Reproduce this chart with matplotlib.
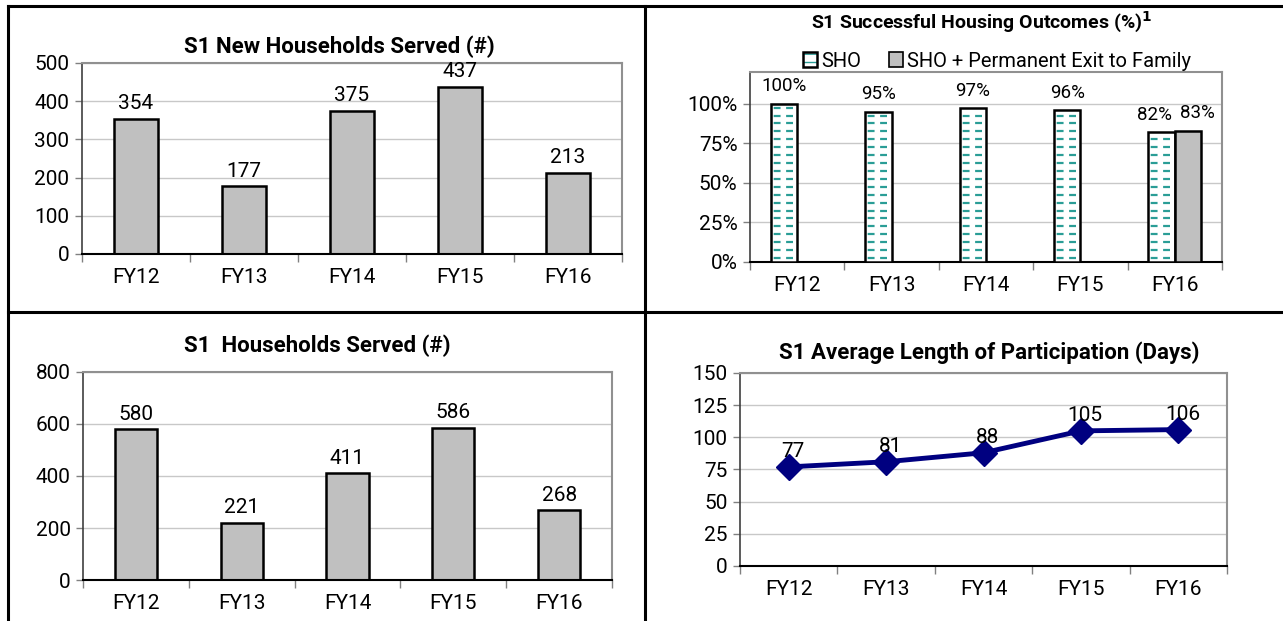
import numpy as np
import matplotlib
matplotlib.use("Agg")
import matplotlib.pyplot as plt
from matplotlib.patches import Patch
from matplotlib.lines import Line2D
from matplotlib.ticker import PercentFormatter, FixedLocator

plt.rcParams['font.family'] = ['Roboto', 'DejaVu Sans']

# ---- data ----
years = ['FY12', 'FY13', 'FY14', 'FY15', 'FY16']
new_households = [354, 177, 375, 437, 213]
households_served = [580, 221, 411, 586, 268]
sho_pct = [100, 95, 97, 96, 82]
sho_family_pct = [np.nan, np.nan, np.nan, np.nan, 83]
avg_days = [77, 81, 88, 105, 106]

GREY_BAR = '#c0c0c0'
TEAL = '#2a9d96'
NAVY = '#000080'
TICK_FS = 15
TITLE_FS = 16


def style_axes(ax, ymax, ystep):
    n = len(years)
    x = np.arange(n)
    ax.set_xlim(-0.5, n - 0.5)
    ax.set_ylim(0, ymax)
    ax.set_yticks(np.arange(0, ymax + 0.1, ystep))
    ax.set_xticks(x)
    ax.set_xticklabels(years)
    ax.xaxis.set_minor_locator(FixedLocator(np.arange(-0.5, n, 1.0)))
    ax.tick_params(axis='x', which='major', length=0, pad=10, labelsize=TICK_FS)
    ax.tick_params(axis='x', which='minor', length=6, width=1, color='#808080')
    ax.tick_params(axis='y', length=5, width=1, color='#808080', labelsize=TICK_FS, pad=4)
    ax.grid(axis='y', color='#c8c8c8', linewidth=1)
    ax.set_axisbelow(True)
    for side in ['top', 'right']:
        ax.spines[side].set_color('#909090')
        ax.spines[side].set_linewidth(1.5)
    ax.spines['left'].set_color('#404040')
    ax.spines['left'].set_linewidth(1.2)
    ax.spines['bottom'].set_color('#000000')
    ax.spines['bottom'].set_linewidth(1.5)
    return x


fig = plt.figure(figsize=(12.83, 6.21), dpi=100)

# ===== S1 New Households Served =====
ax1 = fig.add_axes([0.0639, 0.591, 0.4209, 0.3076])
x = style_axes(ax1, 500, 100)
b = ax1.bar(x, new_households, width=0.4, color=GREY_BAR, edgecolor='black', linewidth=1.8)
ax1.bar_label(b, padding=4, fontsize=TICK_FS)
ax1.set_title('S1 New Households Served (#)', fontsize=TITLE_FS, fontweight='bold',
              x=0.476, y=1.0, pad=7)

# ===== S1 Households Served =====
ax3 = fig.add_axes([0.0647, 0.066, 0.4123, 0.335])
x = style_axes(ax3, 800, 200)
b = ax3.bar(x, households_served, width=0.4, color=GREY_BAR, edgecolor='black', linewidth=1.8)
ax3.bar_label(b, padding=4, fontsize=TICK_FS)
ax3.set_title('S1  Households Served (#)', fontsize=TITLE_FS, fontweight='bold',
              x=0.442, y=1.0, pad=14)

# ===== S1 Successful Housing Outcomes =====
ax2 = fig.add_axes([0.5846, 0.5781, 0.3679, 0.306])
x = style_axes(ax2, 120, 25)
ax2.set_yticks(np.arange(0, 101, 25))
ax2.yaxis.set_major_formatter(PercentFormatter(decimals=0))
bw = 0.28
sho_bars = ax2.bar(x - bw / 2, sho_pct, width=bw, color='white', edgecolor='black',
                   linewidth=1.8, zorder=3)
# dashed teal fill, clipped to each SHO bar
dash_rows = np.arange(2.5, 100, 5)
for bar, val in zip(sho_bars, sho_pct):
    x0 = bar.get_x()
    rows = dash_rows[dash_rows < val]
    lc = ax2.hlines(rows, x0, x0 + bw, colors=TEAL, linewidth=1.6,
                    linestyles=(4.4, (3.1, 2.5)), zorder=3.5)
    lc.set_clip_path(bar)
fam_bars = ax2.bar(x + bw / 2, sho_family_pct, width=bw, color=GREY_BAR, edgecolor='black',
                   linewidth=1.8, zorder=3)
for val, fam, bar in zip(sho_pct, sho_family_pct, sho_bars):
    dx = -5 if not np.isnan(fam) else 0
    ax2.annotate(f'{val}%', (bar.get_x() + bw / 2, val), xytext=(dx, 6),
                 textcoords='offset points', ha='center', va='bottom', fontsize=13.5)
for val, bar in zip(sho_family_pct, fam_bars):
    if not np.isnan(val):
        ax2.annotate(f'{val:.0f}%', (bar.get_x() + bw / 2, val), xytext=(7, 6),
                     textcoords='offset points', ha='center', va='bottom', fontsize=13.5)
ax2.set_title('S1 Successful Housing Outcomes (%)$^\\mathbf{1}$', fontsize=14,
              fontweight='bold', x=0.49, y=1.0, pad=31)
sho_handle = (Patch(facecolor='white', edgecolor=TEAL, hatch='--', linewidth=0),
              Patch(facecolor='none', edgecolor='black', linewidth=1.8))
fam_handle = Patch(facecolor=GREY_BAR, edgecolor='black', linewidth=1.2)
ax2.legend([sho_handle, fam_handle], ['SHO', 'SHO + Permanent Exit to Family'],
           loc='lower center', bbox_to_anchor=(0.523, 0.965), ncol=2, frameon=False,
           fontsize=14.5, handlelength=0.7, handleheight=0.7, handletextpad=0.2,
           columnspacing=1.4, borderaxespad=0)

# ===== S1 Average Length of Participation =====
ax4 = fig.add_axes([0.5768, 0.0886, 0.3796, 0.3108])
x = style_axes(ax4, 150, 25)
ax4.plot(x, avg_days, color=NAVY, linewidth=3.5, marker='D', markersize=13, zorder=3)
for xi, val in zip(x, avg_days):
    ax4.annotate(str(val), (xi, val), xytext=(3, 4), textcoords='offset points',
                 ha='center', va='bottom', fontsize=TICK_FS)
ax4.set_title('S1 Average Length of Participation (Days)', fontsize=TITLE_FS,
              fontweight='bold', x=0.511, y=1.0, pad=10)

# ---- panel frame lines ----
frame_kw = dict(color='black', linewidth=2.2, transform=fig.transFigure)
fig.add_artist(Line2D([8 / 1283, 8 / 1283], [0, 1 - 6 / 621], **frame_kw))
fig.add_artist(Line2D([8 / 1283, 1], [1 - 6 / 621, 1 - 6 / 621], **frame_kw))
fig.add_artist(Line2D([645 / 1283, 645 / 1283], [0, 1 - 6 / 621], **frame_kw))
fig.add_artist(Line2D([8 / 1283, 1], [1 - 312 / 621, 1 - 312 / 621], **frame_kw))

fig.savefig('out.png', dpi=100)
